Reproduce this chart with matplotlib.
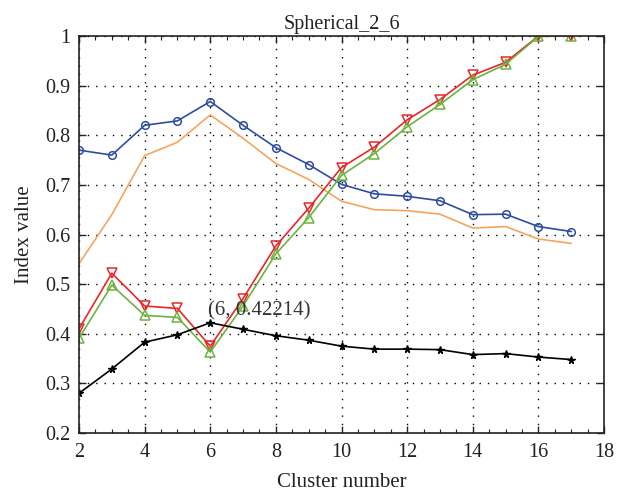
import matplotlib
matplotlib.use("Agg")
import matplotlib.pyplot as plt
from matplotlib.ticker import MultipleLocator, FixedLocator

plt.rcParams['font.family'] = ['Liberation Serif', 'DejaVu Serif']

clusters = list(range(2, 18))
blue = [0.770, 0.760, 0.820, 0.829, 0.868, 0.820, 0.775, 0.741, 0.701, 0.682, 0.677, 0.668, 0.640, 0.641, 0.616, 0.606]
orange = [0.541, 0.640, 0.759, 0.786, 0.841, 0.794, 0.743, 0.711, 0.667, 0.650, 0.648, 0.641, 0.613, 0.616, 0.591, 0.582]
red = [0.410, 0.522, 0.456, 0.451, 0.375, 0.471, 0.577, 0.653, 0.735, 0.776, 0.831, 0.872, 0.921, 0.947, 1.000, 1.000]
green = [0.391, 0.498, 0.437, 0.433, 0.363, 0.456, 0.561, 0.634, 0.719, 0.763, 0.817, 0.862, 0.912, 0.943, 0.999, 1.000]
black = [0.280, 0.329, 0.383, 0.398, 0.42214, 0.409, 0.396, 0.387, 0.375, 0.369, 0.369, 0.368, 0.358, 0.360, 0.353, 0.348]
peak_x, peak_y = 6, 0.42214

title = "Spherical_2_6"
xlabel = "Cluster number"
ylabel = "Index value"
yticks = [0.2, 0.3, 0.4, 0.5, 0.6, 0.7, 0.8, 0.9, 1.0]
ytick_labels = ["0.2", "0.3", "0.4", "0.5", "0.6", "0.7", "0.8", "0.9", "1"]
xticks = [2, 4, 6, 8, 10, 12, 14, 16, 18]

fig = plt.figure(figsize=(6.24, 4.92), dpi=100)
ax = fig.add_axes([79/624, 1-433/492, (604-79)/624, (433-36)/492])

ax.plot(clusters, orange, color='#F5A45D', lw=1.2)
ax.plot(clusters, blue, color='#2E4DA0', lw=1.2, marker='o', mfc='none', ms=5.5, mew=1.1)
ax.plot(clusters, red, color='#E8262A', lw=1.2, marker='v', mfc='none', ms=7, mew=1.1)
ax.plot(clusters, green, color='#6DB33F', lw=1.2, marker='^', mfc='none', ms=7, mew=1.1)
ax.plot(clusters, black, color='black', lw=1.2, marker='*', ms=5.5, mew=1.0)

ax.text(peak_x - 0.08, peak_y + 0.004, f"({peak_x}, {peak_y})", fontsize=15, color='#333333',
        ha='left', va='bottom')

ax.set_xlim(2, 18)
ax.set_ylim(0.2, 1.0)
ax.xaxis.set_major_locator(FixedLocator(xticks))
ax.xaxis.set_minor_locator(MultipleLocator(0.5))
ax.set_yticks(yticks)
ax.set_yticklabels(ytick_labels)
ax.tick_params(which='both', direction='in', top=True, right=True, labelsize=14.5, colors='#222222')
ax.tick_params(which='major', length=5, width=1)
ax.tick_params(which='minor', length=3, width=0.8)
ax.tick_params(axis='x', which='major', pad=7)
ax.tick_params(axis='y', which='major', pad=6)
ax.grid(True, which='major', color='black', linestyle=(0, (1, 5)), linewidth=1.0)
for s in ax.spines.values():
    s.set_linewidth(1.2)
    s.set_color('#222222')

ax.set_title(title, fontsize=14.5, pad=5, color='#222222')
ax.set_xlabel(xlabel, fontsize=15, labelpad=8, color='#222222')
ax.set_ylabel(ylabel, fontsize=15, labelpad=8, color='#222222')

fig.savefig("out.png", dpi=100)
